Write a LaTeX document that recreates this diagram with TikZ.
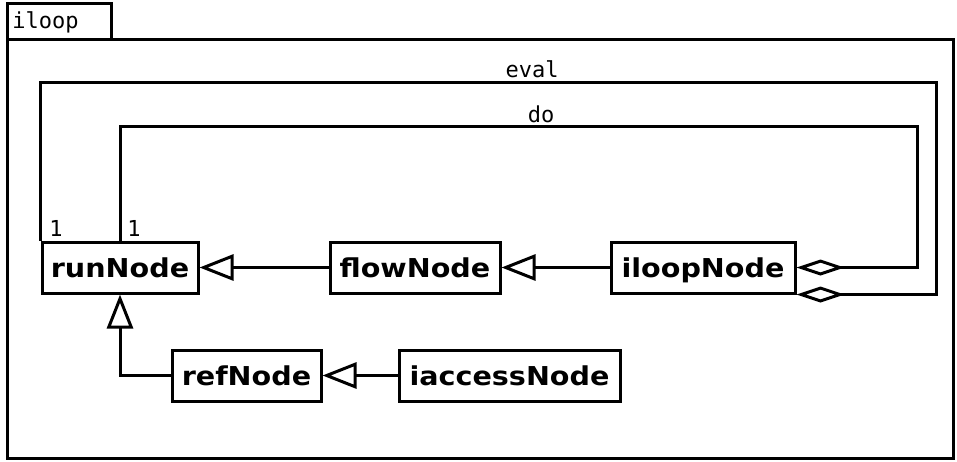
\documentclass[tikz,border=0pt]{standalone}
\usepackage{fontspec}
\setmainfont{DejaVu Sans}[FakeStretch=1.1]
\newfontfamily\monofont{DejaVu Sans Mono}
\usetikzlibrary{arrows.meta}
\begin{document}
\begin{tikzpicture}[x=1pt,y=-1pt, line width=3pt,
 cls/.style={draw, line width=3pt, inner sep=0pt, minimum height=51pt, text height=22pt, text depth=3pt, font=\fontsize{26}{26}\bfseries\selectfont},
 lbl/.style={inner sep=0pt, font=\fontsize{22}{22}\monofont},
 inh/.style={-{Triangle[open,length=34pt,width=26pt]}},
 agg/.style={-{Diamond[open,length=48pt,width=16pt]}}]
\useasboundingbox (0,0) rectangle (957,461);
% package frame
\draw (7,3) rectangle (111,39);
\node[lbl, anchor=west] (pkg) at (11,22) {iloop};
\draw (7,39) rectangle (953,458);
% classes
\node[cls, minimum width=156pt] (run) at (120,267.5) {runNode};
\node[cls, minimum width=170pt] (flow) at (415,267.5) {flowNode};
\node[cls, minimum width=184pt] (iloop) at (703,267.5) {iloopNode};
\node[cls, minimum width=149pt] (ref) at (246.5,375.5) {refNode};
\node[cls, minimum width=221pt] (iacc) at (509.5,375.5) {iaccessNode};
% inheritance
\draw[inh] (flow.west) -- (run.east);
\draw[inh] (iloop.west) -- (flow.east);
\draw[inh] (iacc.west) -- (ref.east);
\draw[inh] (ref.west) -| (run.south);
% aggregations
\coordinate (doR) at (917,126);
\coordinate (evalR) at (936,82);
\draw[agg] (run.north) |- (doR) |- (iloop.east);
\draw[agg] (run.north west) |- (evalR) |- (iloop.south east);
% labels
\node[lbl] (evalL) at (532,69) {eval};
\node[lbl] (doL) at (541,114) {do};
\node[lbl] (m1) at (56,228) {1};
\node[lbl] (m2) at (134,228) {1};
\end{tikzpicture}
\end{document}
